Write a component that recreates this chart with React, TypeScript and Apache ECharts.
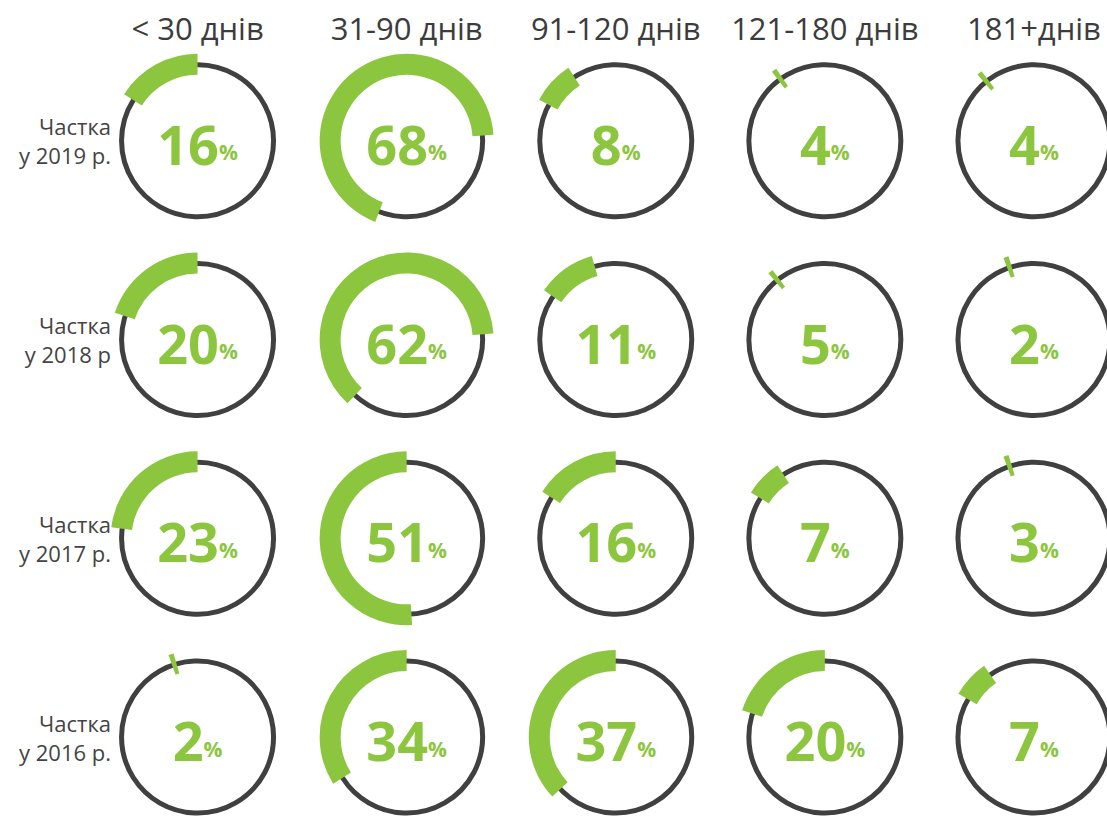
import React, { useEffect, useRef } from 'react';
import * as echarts from 'echarts';

// ---- data ----
const columns = ['< 30 днів', '31-90 днів', '91-120 днів', '121-180 днів', '181+днів'];
const rowLabels = ['Частка\nу 2019 р.', 'Частка\nу 2018 р', 'Частка\nу 2017 р.', 'Частка\nу 2016 р.'];
const share2019 = [16, 68, 8, 4, 4];
const share2018 = [20, 62, 11, 5, 2];
const share2017 = [23, 51, 16, 7, 3];
const share2016 = [2, 34, 37, 20, 7];
const shares = [share2019, share2018, share2017, share2016];

// ---- layout: where each green arc begins (degrees counter-clockwise from 12 o'clock) ----
const arcStart = [
  [0, -86, 33, 34, 37],
  [0, -86, 16, 37, 17],
  [0, 0, 0, 33, 17],
  [16, 0, 0, 0, 35],
];

const GREEN = '#8cc63f';
const GREY = '#404040';
const FONT = 'Open Sans';

export default function App() {
  const ref = useRef<HTMLDivElement>(null);
  useEffect(() => {
    if (!ref.current) return;
    const chart = echarts.init(ref.current, undefined, { renderer: 'svg' });
    const data = shares.flatMap((row, r) => row.map((v, c) => [c, r, v, arcStart[r][c]]));
    chart.setOption({
      animation: false,
      grid: { left: 93, top: 41.4, width: 1045.5, height: 795 },
      xAxis: {
        type: 'category',
        position: 'top',
        data: columns,
        axisLine: { show: false },
        axisTick: { show: false },
        splitLine: { show: false },
        axisLabel: { fontSize: 31, color: '#3c3c3c', fontFamily: FONT, margin: 13, verticalAlign: 'middle', interval: 0 },
      },
      yAxis: {
        type: 'category',
        inverse: true,
        data: rowLabels,
        axisLine: { show: false },
        axisTick: { show: false },
        splitLine: { show: false },
        axisLabel: { fontSize: 22, lineHeight: 29, color: '#444444', fontFamily: FONT, margin: -18, align: 'right', interval: 0 },
      },
      series: [
        {
          type: 'custom',
          clip: false,
          silent: true,
          data,
          renderItem: (params: any, api: any) => {
            const p = api.coord([api.value(0), api.value(1)]);
            const cx = p[0];
            const cy = p[1];
            const v = api.value(2);
            const start = api.value(3);
            const span = v <= 5 ? 3.5 : v * 3.6;
            const rad = Math.PI / 180;
            const a2 = -Math.PI / 2 - start * rad;
            const a1 = a2 - span * rad;
            return {
              type: 'group',
              children: [
                { type: 'circle', shape: { cx, cy, r: 76 }, style: { fill: 'none', stroke: GREY, lineWidth: 5 } },
                { type: 'sector', shape: { cx, cy, r0: 66, r: 87, startAngle: a1, endAngle: a2, clockwise: true }, style: { fill: GREEN } },
                {
                  type: 'text',
                  x: cx,
                  y: cy + 3,
                  style: {
                    text: `{n|${v}}{p|%}`,
                    align: 'center',
                    verticalAlign: 'middle',
                    fill: GREEN,
                    rich: {
                      n: { fontSize: 54, fontWeight: 'bold', fontFamily: FONT, fill: GREEN },
                      p: { fontSize: 21, fontWeight: 'bold', fontFamily: FONT, fill: GREEN, verticalAlign: 'bottom', padding: [0, 0, 8, 0] },
                    },
                  },
                },
              ],
            };
          },
        },
      ],
    });
    return () => chart.dispose();
  }, []);
  return (
    <div style={{ position: 'absolute', left: 0, top: 0, width: 1107, height: 821, overflow: 'hidden' }}>
      <div ref={ref} style={{ position: 'absolute', left: 0, top: 0, width: 1160, height: 860 }} />
    </div>
  );
}
